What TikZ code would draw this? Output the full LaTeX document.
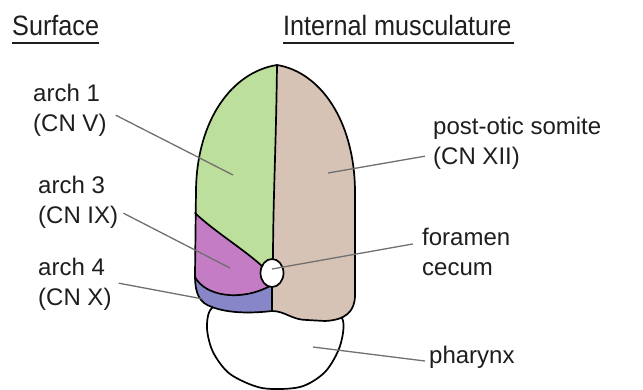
\documentclass[tikz,border=0pt]{standalone}
\usepackage{fontspec}
\setmainfont{Liberation Sans}
\newfontfamily\headfont[FakeStretch=0.9]{Liberation Sans}
\definecolor{tgreen}{RGB}{189,223,156}
\definecolor{tbrown}{RGB}{215,195,182}
\definecolor{tpurple}{RGB}{196,124,196}
\definecolor{tblue}{RGB}{134,134,200}
\definecolor{leadergray}{RGB}{112,112,112}
\definecolor{labeltext}{RGB}{30,30,30}
\begin{document}
\begin{tikzpicture}[x=1pt,y=-1pt,
  outline/.style={draw=black,line width=1.7pt,line join=round,line cap=round},
  leader/.style={draw=leadergray,line width=1.3pt},
  lbl/.style={anchor=base west,inner sep=0pt,align=left,text=labeltext,
    font=\fontsize{24}{30}\selectfont},
  head/.style={anchor=base west,inner sep=0pt,text=labeltext,
    font=\headfont\fontsize{28}{34}\selectfont},
  rule/.style={draw=labeltext,line width=2.3pt}]
\useasboundingbox[fill=white] (0,0) rectangle (643,389);

% pharynx, partly hidden behind the tongue
\draw[outline,fill=white] plot[smooth cycle] coordinates
  {(240,300) (212,308) (207,328) (213,352) (230,374) (262,388) (300,387)
   (325,372) (340,346) (342,318) (315,300)};

% coloured territories of the tongue
\begin{scope}
  \clip (277,65) .. controls (232,72) and (197,120) .. (196,190) -- (195,275)
    .. controls (195,295) and (200,303) .. (212,307)
    .. controls (230,314) and (255,313) .. (272,311)
    .. controls (285,311) and (292,320) .. (307,320) -- (325,321)
    .. controls (345,320) and (355,312) .. (355,295) -- (355,190)
    .. controls (354,120) and (320,72) .. (277,65) -- cycle;
  \fill[tbrown] (150,40) rectangle (400,340);
  \fill[tgreen] (150,40) -- (277,40) -- (277,65)
    .. controls (276,150) and (273,200) .. (273,262) -- (263,267)
    .. controls (245,250) and (215,232) .. (195,213) -- (150,200) -- cycle;
  \fill[tpurple] (150,200) -- (195,213)
    .. controls (215,232) and (245,250) .. (263,267) -- (272,273) -- (270,286)
    .. controls (240,302) and (205,296) .. (195,277) -- (150,277) -- cycle;
  \fill[tblue] (150,277) -- (195,277)
    .. controls (205,296) and (240,302) .. (270,286) -- (272,286)
    -- (272,340) -- (150,340) -- cycle;
\end{scope}

% tongue outline and internal boundaries
\draw[outline] (277,65) .. controls (232,72) and (197,120) .. (196,190) -- (195,275)
  .. controls (195,295) and (200,303) .. (212,307)
  .. controls (230,314) and (255,313) .. (272,311)
  .. controls (285,311) and (292,320) .. (307,320) -- (325,321)
  .. controls (345,320) and (355,312) .. (355,295) -- (355,190)
  .. controls (354,120) and (320,72) .. (277,65) -- cycle;
\draw[outline] (277,65) .. controls (276,150) and (273,200) .. (273,262);
\draw[outline] (272,286) -- (272,311);
\draw[outline] (195,213) .. controls (215,232) and (245,250) .. (263,267);
\draw[outline] (195,277) .. controls (205,296) and (240,302) .. (270,286);
\draw[outline,fill=white] (272,273) ellipse [x radius=11.5, y radius=14];

% headings
\node[head] (hs) at (12,35) {Surface};
\node[head] (hi) at (283,35) {Internal musculature};
\draw[rule] ([shift={(0,8)}]hs.base west) -- ([shift={(0,8)}]hs.base east);
\draw[rule] ([shift={(0,8)}]hi.base west) -- ([shift={(2,8)}]hi.base east);

% labels (base anchor sits on the last line)
\node[lbl] (l1) at (33,131) {arch 1\\(CN V)};
\node[lbl] (l3) at (38,223) {arch 3\\(CN IX)};
\node[lbl] (l4) at (38,305) {arch 4\\(CN X)};
\node[lbl] (lp) at (433,164) {post-otic somite\\(CN XII)};
\node[lbl] (lf) at (422,275) {foramen\\cecum};
\node[lbl] (lh) at (429,363) {pharynx};

% leader end points
\coordinate (c1) at (233,175);
\coordinate (c3) at (230,268);
\coordinate (c4) at (203,299);
\coordinate (cp) at (328,173);
\coordinate (cf) at (272,269);
\coordinate (ch) at (313,347);

\draw[leader] ([shift={(9,-21)}]l1.south east) -- (c1);
\draw[leader] ([shift={(5,-15)}]l3.south east) -- (c3);
\draw[leader] ([shift={(7,-27)}]l4.south east) -- (c4);
\draw[leader] ([shift={(-8,-13)}]lp.south west) -- (cp);
\draw[leader] ([shift={(-9,16.5)}]lf.north west) -- (cf);
\draw[leader] ([shift={(-4,-2)}]lh.base west) -- (ch);
\end{tikzpicture}
\end{document}
